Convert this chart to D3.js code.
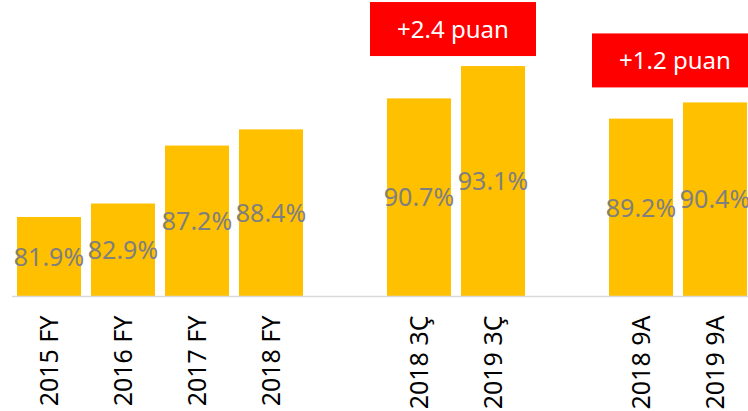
<!DOCTYPE html>
<html>
<head>
<meta charset="utf-8">
<script src="https://cdn.jsdelivr.net/npm/d3@7"></script>
<style>
    body { margin: 0; background: #fff; }
    text { font-family: "Noto Sans", "Open Sans", sans-serif; }
</style>
</head>
<body>
<div id="vis"></div>
<script>
// categories (gap slots leave the empty spaces between groups)
var categories = ['2015 FY', '2016 FY', '2017 FY', '2018 FY', 'gap1',
    '2018 3Ç', '2019 3Ç', 'gap2', '2018 9A', '2019 9A'];
var values = [81.9, 82.9, 87.2, 88.4, null, 90.7, 93.1, null, 89.2, 90.4];
var valueLabels = ['81.9%', '82.9%', '87.2%', '88.4%', '', '90.7%', '93.1%', '', '89.2%', '90.4%'];

// badges over the two comparison pairs
var badgeTexts = ['+2.4 puan', '+1.2 puan'];
var badgePairs = [['2018 3Ç', '2019 3Ç'], ['2018 9A', '2019 9A']];

var width = 748;
var height = 411;
var baseline = 296.5;
var badgeGap = [10, 15];

var svg = d3.select('#vis')
    .append('svg')
    .attr('width', width)
    .attr('height', height);

var x = d3.scaleBand()
    .domain(categories)
    .range([12, 752])
    .paddingInner(0.135)
    .paddingOuter(0.0676);

var y = d3.scaleLinear()
    .domain([76, 98])
    .range([baseline, 0]);

var data = categories.map(function (c, i) {
    return {cat: c, value: values[i], label: valueLabels[i]};
}).filter(function (d) {
    return d.value !== null;
});

svg.selectAll('.bar')
    .data(data)
    .enter().append('rect')
    .attr('class', 'bar')
    .attr('x', function (d) { return x(d.cat); })
    .attr('y', function (d) { return y(d.value); })
    .attr('width', x.bandwidth())
    .attr('height', function (d) { return baseline - y(d.value); })
    .attr('fill', '#ffc000');

// axis line + rotated category labels
var axis = svg.append('g')
    .attr('transform', 'translate(0,' + baseline + ')')
    .call(d3.axisBottom(x).tickSize(0).tickSizeOuter(0)
        .tickFormat(function (d) { return d.indexOf('gap') === 0 ? '' : d; }));

axis.select('.domain')
    .attr('stroke', '#d9d9d9')
    .attr('stroke-width', 1.5)
    .attr('d', 'M12,0H748');

axis.selectAll('.tick text')
    .attr('transform', 'rotate(-90)')
    .attr('text-anchor', 'end')
    .attr('x', -19)
    .attr('y', 0)
    .attr('dy', '0.36em')
    .style('font-family', '"Noto Sans", sans-serif')
    .style('font-size', '25px')
    .attr('fill', '#000');

// value labels centred in the bars
svg.selectAll('.value')
    .data(data)
    .enter().append('text')
    .attr('class', 'value')
    .attr('x', function (d) { return x(d.cat) + x.bandwidth() / 2; })
    .attr('y', function (d) { return (y(d.value) + baseline) / 2; })
    .attr('dy', '0.36em')
    .attr('text-anchor', 'middle')
    .style('font-size', '25px')
    .attr('fill', '#7f7f7f')
    .text(function (d) { return d.label; });

// red badges
var badgeW = 166, badgeH = 54;
badgeTexts.forEach(function (t, i) {
    var a = badgePairs[i][0], b = badgePairs[i][1];
    var cx = (x(a) + x(b) + x.bandwidth()) / 2 - 3;
    var topMin = d3.min(badgePairs[i], function (c) {
        return y(values[categories.indexOf(c)]);
    });
    var bottom = topMin - badgeGap[i];
    var g = svg.append('g');
    g.append('rect')
        .attr('x', cx - badgeW / 2)
        .attr('y', bottom - badgeH)
        .attr('width', badgeW)
        .attr('height', badgeH)
        .attr('fill', '#ff0000');
    g.append('text')
        .attr('x', cx)
        .attr('y', bottom - badgeH / 2)
        .attr('dy', '0.36em')
        .attr('text-anchor', 'middle')
        .style('font-size', '24px')
        .attr('fill', '#fff')
        .text(t);
});
</script>
</body>
</html>
